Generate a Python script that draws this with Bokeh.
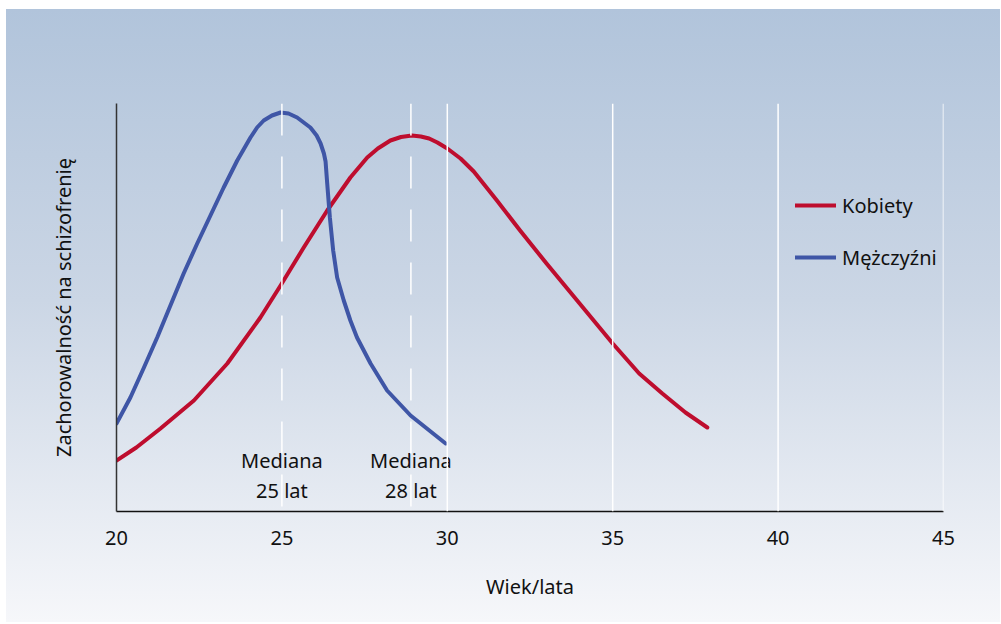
from bokeh.plotting import figure
from bokeh.models import Legend, LegendItem, FixedTicker, Span
from bokeh.core.properties import value
from bokeh.embed import file_html
from bokeh.resources import INLINE

# Data (incidence in arbitrary units, 0..408)
men_age = [20.0, 20.42, 20.83, 21.23, 21.63, 22.03, 22.44, 22.84, 23.24, 23.65, 24.05, 24.25, 24.45,
           24.7, 24.96, 25.2, 25.46, 25.86, 26.05, 26.17, 26.27, 26.32, 26.37, 26.45, 26.55, 26.67,
           26.87, 27.07, 27.27, 27.68, 28.18, 28.89, 29.95]
men_val = [88, 114, 144, 174, 206, 238, 268, 296, 324, 351, 374, 384, 391,
           396, 399, 398, 394, 384, 376, 368, 358, 350, 328, 294, 261, 234,
           211, 191, 174, 148, 121, 96, 68]

women_age = [20.0, 20.6, 21.33, 22.34, 23.35, 24.35, 24.96, 25.66, 26.37, 27.07, 27.58, 27.9,
             28.28, 28.6, 28.93, 29.2, 29.45, 29.7, 30.0, 30.4, 30.8, 31.5, 32.2, 33.0, 34.0,
             35.0, 35.8, 36.5, 37.2, 37.86]
women_val = [51, 64, 83, 111, 148, 194, 226, 264, 301, 334, 354, 363,
             371, 374.5, 376, 375, 373, 369, 363, 353, 340, 311, 281, 248, 208,
             168, 138, 118, 99, 84]

x_ticks = [20, 25, 30, 35, 40, 45]
grid_ages = [30, 35, 40, 45]
median_ages = [25.0, 28.9]
median_titles = ["Mediana", "Mediana"]
median_labels = ["25 lat", "28 lat"]
series_names = ["Kobiety", "Mężczyźni"]

FONT = "Noto Sans"
RED = "#be0d2e"
BLUE = "#3f56a6"
INK = "#111111"

p = figure(width=1000, height=622, x_range=(20, 45), y_range=(0, 408),
           output_backend="svg", toolbar_location=None,
           min_border_left=116, min_border_right=57, min_border_top=103, min_border_bottom=111)
p.styles = {"background-image":
            "linear-gradient(to right, #ffffff 0px, #ffffff 6px, rgba(255,255,255,0) 6px), "
            "linear-gradient(to bottom, #ffffff 0px, #ffffff 9px, #b1c4db 9px, #cbd6e5 300px, #f6f7fa 622px)"}
p.background_fill_alpha = 0
p.border_fill_alpha = 0
p.outline_line_color = None
p.xgrid.visible = False
p.ygrid.visible = False

for g in grid_ages:
    p.add_layout(Span(location=g, dimension="height", line_color="white", line_width=1.5))
for m in median_ages:
    p.add_layout(Span(location=m, dimension="height", line_color="white", line_width=1.5,
                      line_dash="32 21"))

# axes
p.xaxis.ticker = FixedTicker(ticks=x_ticks)
p.xaxis.major_tick_line_color = None
p.xaxis.minor_tick_line_color = None
p.xaxis.axis_line_color = INK
p.xaxis.axis_line_width = 1.5
p.xaxis.major_label_text_font = FONT
p.xaxis.major_label_text_font_size = "20px"
p.xaxis.major_label_text_color = INK
p.xaxis.major_label_standoff = 13
p.xaxis.axis_label = "Wiek/lata"
p.xaxis.axis_label_text_font = FONT
p.xaxis.axis_label_text_font_size = "20px"
p.xaxis.axis_label_text_font_style = "normal"
p.xaxis.axis_label_text_color = INK
p.xaxis.axis_label_standoff = 25

p.yaxis.ticker = FixedTicker(ticks=[])
p.yaxis.major_tick_line_color = None
p.yaxis.minor_tick_line_color = None
p.yaxis.axis_line_color = "#333333"
p.yaxis.axis_line_width = 1.5
p.yaxis.axis_label = "Zachorowalność na schizofrenię"
p.yaxis.axis_label_text_font = FONT
p.yaxis.axis_label_text_font_size = "20px"
p.yaxis.axis_label_text_font_style = "normal"
p.yaxis.axis_label_text_color = INK
p.yaxis.axis_label_standoff = 40

r_w = p.line(women_age, women_val, line_color=RED, line_width=4, line_cap="round", line_join="round")
r_m = p.line(men_age, men_val, line_color=BLUE, line_width=4, line_cap="round", line_join="round")

# median annotations
p.text(x=median_ages, y=[51, 51], text=median_titles, text_font=value(FONT),
       text_font_size="20px", text_align="center", text_baseline="middle", text_color=INK)
p.text(x=median_ages, y=[21, 21], text=median_labels, text_font=value(FONT),
       text_font_size="20px", text_align="center", text_baseline="middle", text_color=INK)

legend = Legend(items=[LegendItem(label=series_names[0], renderers=[r_w]),
                       LegendItem(label=series_names[1], renderers=[r_m])],
                location=(679, 239), padding=0, margin=0, spacing=22,
                glyph_width=41, glyph_height=30, label_height=30, label_standoff=6,
                label_text_font=FONT, label_text_font_size="20px", label_text_color=INK,
                border_line_alpha=0, background_fill_alpha=0)
p.add_layout(legend)

open("out.html", "w").write(file_html(p, INLINE))
